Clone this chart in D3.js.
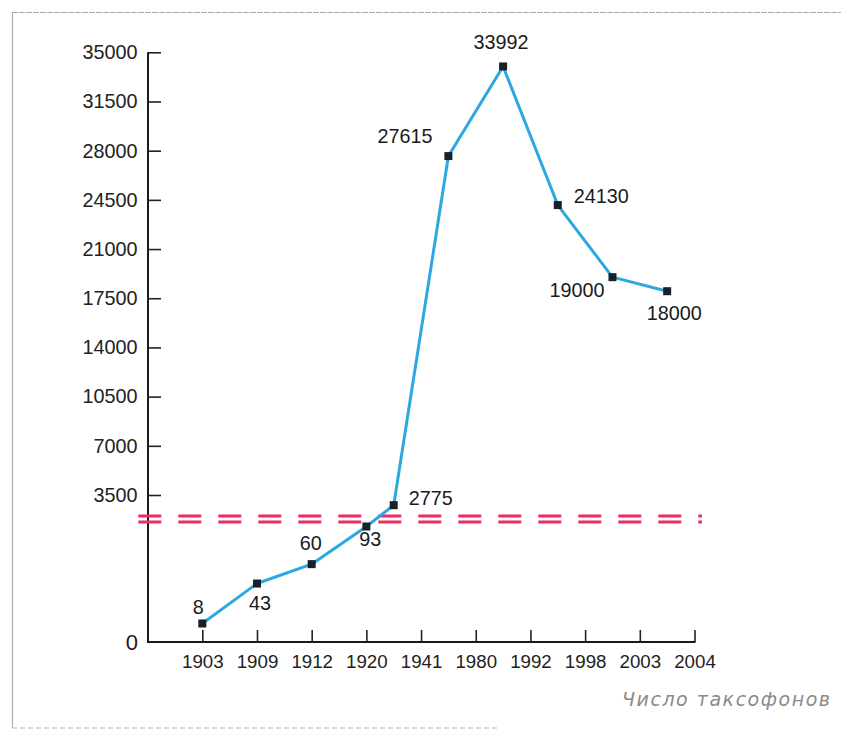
<!DOCTYPE html>
<html>
<head>
<meta charset="utf-8">
<script src="https://cdn.jsdelivr.net/npm/d3@7"></script>
<style>
  html, body { margin: 0; padding: 0; background: #fff; }
  svg { display: block; }
</style>
</head>
<body>
<svg id="chart" width="841" height="730"></svg>
<script>
// ---------- data ----------
const years  = ['1903', '1909', '1912', '1920', '1941', '1980', '1992', '1998', '2003', '2004'];
const counts = [8, 43, 60, 93, 2775, 27615, 33992, 24130, 19000, 18000];
const upperTicks = [3500, 7000, 10500, 14000, 17500, 21000, 24500, 28000, 31500, 35000];
const zeroLabel = '0';
const axisTitle = 'Число таксофонов';
const breakValue = 1000; // values below this are drawn on the lower (compressed) segment

// ---------- layout ----------
const axisX = 148, baseY = 642, axisRight = 694.5, breakY = 519;
const labelPlace = [
  { dx: -4,  dy: -9,  anchor: 'middle' },
  { dx: 3,   dy: 26,  anchor: 'middle' },
  { dx: -1,  dy: -14, anchor: 'middle' },
  { dx: 4,   dy: 20,  anchor: 'middle' },
  { dx: 15,  dy: 0,   anchor: 'start'  },
  { dx: -16, dy: -13, anchor: 'end'    },
  { dx: -2,  dy: -17, anchor: 'middle' },
  { dx: 16,  dy: -2,  anchor: 'start'  },
  { dx: -8,  dy: 20,  anchor: 'end'    },
  { dx: 7,   dy: 29,  anchor: 'middle' }
];

const svg = d3.select('#chart');

// frame of the scanned page
svg.append('line').attr('x1', 12).attr('x2', 841).attr('y1', 12.5).attr('y2', 12.5)
  .attr('stroke', '#a8a8a8').attr('stroke-width', 1.2).attr('stroke-dasharray', '6 1');
svg.append('line').attr('x1', 12.5).attr('x2', 12.5).attr('y1', 12).attr('y2', 728)
  .attr('stroke', '#b0b0b0').attr('stroke-width', 1.2);
svg.append('line').attr('x1', 12).attr('x2', 500).attr('y1', 728).attr('y2', 728)
  .attr('stroke', '#b8b8b8').attr('stroke-width', 1.2).attr('stroke-dasharray', '5 3');

// ---------- scales ----------
const x = d3.scalePoint().domain(years).range([202.3, axisRight]);
const yHigh = d3.scaleLinear().domain([3500, 35000]).range([495, 52.3]);
const yLow  = d3.scaleLinear().domain([0, 100]).range([632.6, 518.5]);
const yPos = v => v < breakValue ? yLow(v) : yHigh(v);
const xPos = (yr, v) => x(yr) - (v < breakValue ? 0 : x.step() / 2);

const pts = years.map((yr, i) => ({ yr, v: counts[i], px: xPos(yr, counts[i]), py: yPos(counts[i]) }));

// ---------- y axis ----------
const yAxis = d3.axisLeft(yHigh).tickValues(upperTicks).tickSize(-13).tickPadding(10.5).tickFormat(d3.format('d'));
const gy = svg.append('g').attr('transform', `translate(${axisX},0)`).call(yAxis);
gy.select('.domain').remove();
gy.selectAll('.tick line').attr('stroke', '#222').attr('stroke-width', 1.6);
gy.selectAll('.tick text').attr('fill', '#222').style('font-family', '"Liberation Sans", Arial, sans-serif').style('font-size', '19.8px');
svg.append('line').attr('x1', axisX).attr('x2', axisX).attr('y1', yHigh(35000)).attr('y2', baseY)
  .attr('stroke', '#1a1a1a').attr('stroke-width', 2);
svg.append('text').attr('x', 138).attr('y', baseY).attr('dy', '0.36em').attr('text-anchor', 'end')
  .attr('fill', '#1a1a1a').style('font-family', '"Liberation Sans", Arial, sans-serif').style('font-size', '22px')
  .text(zeroLabel);

// ---------- x axis ----------
const xAxis = d3.axisBottom(x).tickSize(-12).tickPadding(0);
const gx = svg.append('g').attr('transform', `translate(0,${baseY})`).call(xAxis);
gx.select('.domain').remove();
gx.selectAll('.tick line').attr('stroke', '#222').attr('stroke-width', 1.6);
gx.selectAll('.tick text').attr('y', 26).attr('dy', 0).attr('fill', '#222')
  .style('font-family', '"Liberation Sans", Arial, sans-serif').style('font-size', '18.7px');
svg.append('line').attr('x1', axisX - 1).attr('x2', axisRight + 1).attr('y1', baseY).attr('y2', baseY)
  .attr('stroke', '#1a1a1a').attr('stroke-width', 2);

// ---------- axis break (double dashed line) ----------
[breakY - 3, breakY + 3].forEach(yy => {
  svg.append('line').attr('x1', 138.3).attr('x2', 702).attr('y1', yy).attr('y2', yy)
    .attr('stroke', '#ec2c63').attr('stroke-width', 3.2).attr('stroke-dasharray', '23 17');
});

// ---------- series ----------
svg.append('path').datum(pts)
  .attr('fill', 'none').attr('stroke', '#2ca8e0').attr('stroke-width', 3).attr('stroke-linejoin', 'round')
  .attr('d', d3.line().x(d => d.px).y(d => d.py));

svg.selectAll('rect.pt').data(pts).enter().append('rect').attr('class', 'pt')
  .attr('x', d => d.px - 4).attr('y', d => d.py - 4).attr('width', 8).attr('height', 8)
  .attr('fill', '#15212c');

svg.selectAll('text.lbl').data(pts).enter().append('text').attr('class', 'lbl')
  .attr('x', (d, i) => d.px + labelPlace[i].dx)
  .attr('y', (d, i) => d.py + labelPlace[i].dy)
  .attr('text-anchor', (d, i) => labelPlace[i].anchor)
  .attr('fill', '#1a1a1a')
  .style('font-family', '"Liberation Sans", Arial, sans-serif').style('font-size', '19.8px')
  .text(d => d.v);

// ---------- caption ----------
svg.append('text').attr('x', 622).attr('y', 706)
  .attr('textLength', 208).attr('lengthAdjust', 'spacing')
  .attr('fill', '#8a8a8a')
  .style('font-family', '"DejaVu Sans", sans-serif').style('font-style', 'italic').style('font-size', '19px')
  .text(axisTitle);
</script>
</body>
</html>
